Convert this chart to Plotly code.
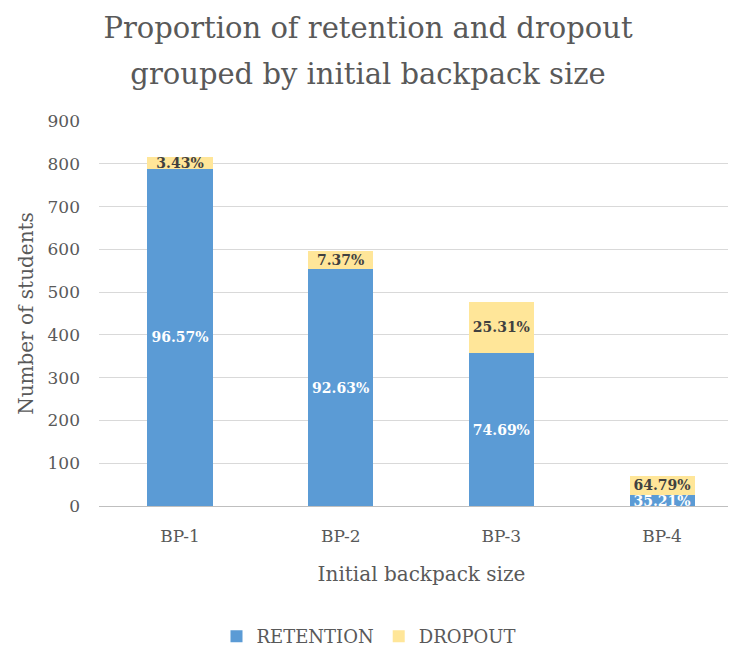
import plotly.graph_objects as go

categories = ["BP-1", "BP-2", "BP-3", "BP-4"]
retention = [788, 553, 357, 25]
dropout = [28, 44, 121, 46]

totals = [r + d for r, d in zip(retention, dropout)]
ret_text = [f"{r / t * 100:.2f}%" for r, t in zip(retention, totals)]
drop_text = [f"{d / t * 100:.2f}%" for d, t in zip(dropout, totals)]

FONT = "DejaVu Serif"
GRAY = "#595959"

title_lines = ["Proportion of retention and dropout", "grouped by initial backpack size"]
title_text = "<br>".join(f"<span style='font-size:29px'>{t}</span>" for t in title_lines)

fig = go.Figure()
fig.add_trace(go.Bar(
    x=categories, y=retention, name="RETENTION",
    marker=dict(color="#5B9BD5", line=dict(width=0)),
    text=ret_text, textposition="inside", insidetextanchor="middle",
    textfont=dict(family=FONT, size=14, color="white", weight="bold"),
    constraintext="none", cliponaxis=False,
))
fig.add_trace(go.Bar(
    x=categories, y=dropout, name="DROPOUT",
    marker=dict(color="#FFE699", line=dict(width=0)),
    text=drop_text, textposition="inside", insidetextanchor="middle",
    textfont=dict(family=FONT, size=14, color="#404040", weight="bold"),
    constraintext="none", cliponaxis=False,
))

fig.update_layout(
    barmode="stack",
    bargap=0.595,
    width=736, height=647,
    margin=dict(l=91, r=0, t=113, b=149, autoexpand=False),
    paper_bgcolor="white", plot_bgcolor="white",
    font=dict(family=FONT, color=GRAY),
    title=dict(
        text=title_text,
        x=360 / 736, xanchor="center", xref="container",
        y=1 - 30 / 647, yanchor="middle", yref="container",
        font=dict(family=FONT, size=35, color=GRAY),
    ),
    xaxis=dict(
        range=[-0.504, 3.51], automargin=False,
        showgrid=False, showline=False, ticks="", ticklabelstandoff=18,
        tickfont=dict(family=FONT, size=17, color=GRAY),
        title=dict(text="Initial backpack size", font=dict(family=FONT, size=20, color=GRAY), standoff=21),
    ),
    yaxis=dict(
        range=[0, 900], dtick=100, automargin=False,
        showgrid=True, gridcolor="#D9D9D9", gridwidth=1,
        zeroline=True, zerolinecolor="#BFBFBF", zerolinewidth=1,
        showline=False, ticks="", ticklabelstandoff=18,
        tickfont=dict(family=FONT, size=17, color=GRAY),
        title=dict(text="Number of students", font=dict(family=FONT, size=20, color=GRAY), standoff=8),
    ),
    legend=dict(
        orientation="h", traceorder="normal",
        x=361 / 736, xanchor="center", xref="container",
        y=0.0, yanchor="bottom", yref="container",
        font=dict(family=FONT, size=18, color=GRAY),
        itemsizing="constant",
    ),
)

fig.write_html("out.html")
